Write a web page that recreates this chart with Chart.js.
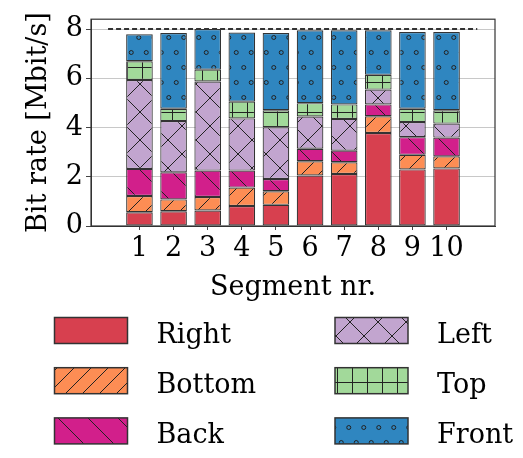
<!DOCTYPE html>
<html>
<head>
<meta charset="utf-8">
<script src="https://cdn.jsdelivr.net/npm/chart.js@4/dist/chart.umd.min.js"></script>
<style>
  html, body { margin: 0; padding: 0; background: #fff; }
  #wrap { width: 523px; height: 458px; }
</style>
</head>
<body>
<div id="wrap"><canvas id="myChart" width="523" height="458"></canvas></div>
<script>
const segments = [1, 2, 3, 4, 5, 6, 7, 8, 9, 10];
const rightRate  = [0.56, 0.60, 0.63, 0.81, 0.86, 2.05, 2.11, 3.78, 2.30, 2.34];
const bottomRate = [0.66, 0.48, 0.55, 0.75, 0.55, 0.58, 0.48, 0.68, 0.59, 0.49];
const backRate   = [1.10, 1.10, 1.07, 0.69, 0.50, 0.51, 0.47, 0.48, 0.72, 0.76];
const leftRate   = [3.61, 2.08, 3.62, 2.12, 2.10, 1.31, 1.29, 0.60, 0.61, 0.57];
const topRate    = [0.76, 0.50, 0.48, 0.68, 0.69, 0.54, 0.59, 0.60, 0.54, 0.54];
const frontRate  = [1.10, 3.08, 1.65, 2.81, 3.14, 2.96, 3.01, 1.81, 3.12, 3.18];
const yTicks = [0, 2, 4, 6, 8];
const capacity = 8;
const capSpan = [0.08, 10.9];

const ink = "#333";
const serif = "DejaVu Serif";
const fontSize = 27;

// hatch fills, anchored to the canvas like matplotlib hatches
function makePattern(color, kind) {
  const c = document.createElement("canvas");
  const sizes = { solid: [8, 8], slash: [17, 17], back: [30, 30], cross: [28, 28], plus: [15, 15], dots: [15, 30] };
  const [w, h] = sizes[kind];
  c.width = w; c.height = h;
  const g = c.getContext("2d");
  g.fillStyle = color;
  g.fillRect(0, 0, w, h);
  g.strokeStyle = "#222";
  g.lineWidth = 1;
  g.beginPath();
  if (kind === "slash" || kind === "cross") {
    g.moveTo(0, h); g.lineTo(w, 0);
    g.moveTo(-2, 2); g.lineTo(2, -2);
    g.moveTo(w - 2, h + 2); g.lineTo(w + 2, h - 2);
  }
  if (kind === "back" || kind === "cross") {
    g.moveTo(0, 0); g.lineTo(w, h);
    g.moveTo(-2, h - 2); g.lineTo(2, h + 2);
    g.moveTo(w - 2, -2); g.lineTo(w + 2, 2);
  }
  if (kind === "plus") {
    g.moveTo(w / 2, 0); g.lineTo(w / 2, h);
    g.moveTo(0, h / 2); g.lineTo(w, h / 2);
  }
  g.stroke();
  if (kind === "dots") {
    [[3.75, 7.5], [11.25, 22.5]].forEach(([x, y]) => {
      g.beginPath();
      g.arc(x, y, 2, 0, Math.PI * 2);
      g.stroke();
    });
  }
  return g.createPattern(c, "repeat");
}

const series = [
  { label: "Right",  values: rightRate,  color: "#d7404f", kind: "solid" },
  { label: "Bottom", values: bottomRate, color: "#fd8d54", kind: "slash" },
  { label: "Back",   values: backRate,   color: "#d21f8b", kind: "back" },
  { label: "Left",   values: leftRate,   color: "#c2a5cf", kind: "cross" },
  { label: "Top",    values: topRate,    color: "#a2d99a", kind: "plus" },
  { label: "Front",  values: frontRate,  color: "#2f86c0", kind: "dots" },
];

const barSets = series.map(s => ({
  type: "bar",
  label: s.label,
  data: segments.map((x, i) => ({ x: x, y: s.values[i] })),
  backgroundColor: makePattern(s.color, s.kind),
  borderColor: ink,
  borderWidth: 1.2,
  borderSkipped: false,
  barPercentage: 0.78,
  categoryPercentage: 1,
}));

const capLine = {
  type: "line",
  label: "cap",
  data: capSpan.map(x => ({ x: x, y: capacity })),
  borderColor: ink,
  borderWidth: 2,
  borderDash: [5, 3],
  pointRadius: 0,
  order: -1,
};

const framePlugin = {
  id: "frame",
  afterDatasetsDraw(chart) {
    const { ctx, chartArea: a } = chart;
    ctx.save();
    ctx.strokeStyle = ink;
    ctx.lineWidth = 1.2;
    ctx.strokeRect(a.left, a.top, a.right - a.left, a.bottom - a.top);
    ctx.restore();
  },
};

// two-column legend under the axis, column by column
const legendPlugin = {
  id: "boxLegend",
  afterDraw(chart) {
    const ctx = chart.ctx;
    ctx.save();
    ctx.textBaseline = "alphabetic";
    ctx.font = fontSize + "px " + serif;
    series.forEach((s, i) => {
      const col = Math.floor(i / 3), row = i % 3;
      const bx = col ? 335 : 54.5;
      const by = 317.5 + row * 50.2;
      const ds = chart.data.datasets[i];
      ctx.fillStyle = ds.backgroundColor;
      ctx.fillRect(bx, by, 73, 26);
      ctx.strokeStyle = ink;
      ctx.lineWidth = 1.5;
      ctx.strokeRect(bx, by, 73, 26);
      ctx.fillStyle = "#000";
      ctx.fillText(s.label, bx + 102, by + 25);
    });
    ctx.restore();
  },
};

new Chart(document.getElementById("myChart"), {
  data: { datasets: [...barSets, capLine] },
  options: {
    responsive: false,
    animation: false,
    events: [],
    layout: { padding: { left: 0, top: 19, right: 28, bottom: 154 } },
    plugins: { legend: { display: false }, tooltip: { enabled: false } },
    scales: {
      x: {
        type: "linear",
        stacked: true,
        offset: false,
        min: -0.42,
        max: 11.42,
        afterBuildTicks: s => { s.ticks = segments.map(v => ({ value: v })); },
        afterFit: s => { s.height = 78; },
        grid: { offset: false, drawOnChartArea: false, tickLength: 4, tickColor: "#444" },
        border: { color: ink },
        ticks: { font: { family: serif, size: fontSize }, color: "#000", padding: 3, maxRotation: 0, autoSkip: false },
        title: { display: true, text: "Segment nr.", font: { family: serif, size: fontSize }, color: "#000", padding: 0 },
      },
      y: {
        stacked: true,
        min: 0,
        max: 8.4,
        afterBuildTicks: s => { s.ticks = yTicks.map(v => ({ value: v })); },
        afterFit: s => { s.width = 91; },
        grid: { color: "#c8c8c8", lineWidth: 1, tickLength: 5, tickColor: "#444" },
        border: { color: ink },
        ticks: { font: { family: serif, size: fontSize }, color: "#000", padding: 3 },
        title: { display: true, text: "Bit rate [Mbit/s]", font: { family: serif, size: fontSize }, color: "#000", padding: { top: 23 } },
      },
    },
  },
  plugins: [framePlugin, legendPlugin],
});
</script>
</body>
</html>
